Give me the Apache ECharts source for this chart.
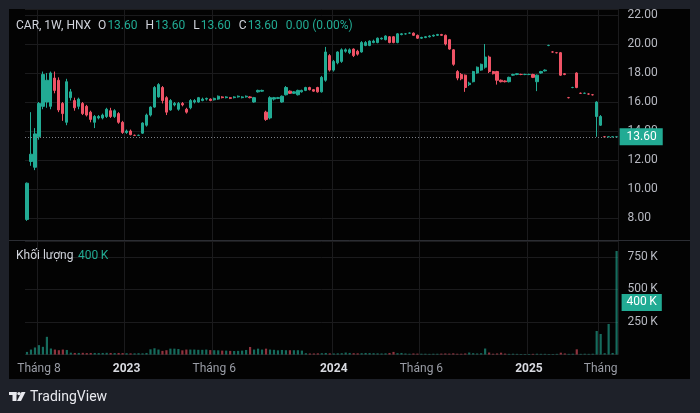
<!DOCTYPE html>
<html>
<head>
<meta charset="utf-8">
<script src="https://cdn.jsdelivr.net/npm/echarts@6/dist/echarts.min.js"></script>
<style>
html,body{margin:0;padding:0;background:#1e2129;}
#chart{width:700px;height:413px;}
</style>
</head>
<body>
<div id="chart"></div>
<script>
// Weekly candles: [open, close, low, high]
const candles = [
[7.9,10.4,7.8,10.45],[11.9,12.4,11.6,15.3],[11.5,13.8,11.3,14.2],[13.6,15.9,13.4,16.0],[15.7,17.9,15.5,18.1],
[16.0,17.5,15.6,18.0],[15.7,18.0,15.5,18.1],[17.65,16.8,16.6,18.1],[17.5,15.45,15.3,17.7],[15.9,15.2,14.7,16.0],
[14.6,17.4,14.4,17.6],[16.3,16.7,16.1,16.9],[16.1,15.6,15.4,16.3],[15.7,16.2,15.5,16.3],[15.9,15.2,15.1,16.0],
[15.7,15.1,15.0,15.8],[15.3,14.8,14.6,15.4],[14.6,15.0,14.2,15.1],[14.9,15.0,14.8,15.1],[14.9,15.1,14.8,15.2],
[15.0,15.5,14.9,15.6],[15.4,15.0,14.9,15.6],[15.0,15.4,14.9,15.5],[15.2,14.6,14.5,15.3],[14.6,13.9,13.8,14.7],
[13.9,14.0,13.8,14.1],[14.0,13.75,13.7,14.1],[13.7,13.7,13.65,13.75],[13.7,13.7,13.65,13.75],[13.85,14.55,13.8,14.6],
[14.4,15.1,14.3,15.2],[15.1,15.65,15.0,15.7],[15.65,17.0,15.6,17.1],[16.35,17.2,16.3,17.3],[17.0,16.1,15.9,17.1],
[16.3,15.3,15.1,16.4],[15.45,16.1,15.4,16.2],[15.8,15.9,15.7,16.0],[15.5,15.9,15.4,16.0],[15.9,15.8,15.7,16.0],
[15.5,15.3,15.2,15.6],[15.6,16.1,15.5,16.2],[16.0,16.1,15.9,16.2],[16.0,16.3,15.95,16.35],[16.1,16.2,16.05,16.3],
[16.2,16.25,16.1,16.3],[16.2,16.1,16.05,16.25],[16.15,16.25,16.1,16.3],[16.2,16.4,16.15,16.45],[16.35,16.3,16.25,16.4],
[16.3,16.35,16.25,16.4],[16.3,16.25,16.2,16.35],[16.3,16.35,16.25,16.4],[16.35,16.4,16.3,16.45],[16.3,16.35,16.25,16.4],
[16.35,16.4,16.3,16.45],[16.35,16.3,16.25,16.4],[16.0,16.3,15.95,16.35],[16.7,16.8,16.65,16.85],[16.75,16.8,16.7,16.85],
[15.3,14.8,14.7,15.4],[14.9,16.3,14.8,16.4],[16.2,16.3,16.1,16.35],[16.25,16.3,16.2,16.35],[16.0,16.4,15.95,16.45],
[16.5,17.0,16.45,17.1],[16.75,16.6,16.55,16.8],[16.6,16.7,16.55,16.75],[16.5,16.8,16.45,16.85],[16.7,16.8,16.65,16.85],
[16.8,17.0,16.75,17.05],[17.0,16.85,16.8,17.05],[16.85,16.75,16.7,16.9],[17.0,16.7,16.65,17.05],[16.7,17.7,16.65,17.8],
[17.5,19.45,17.4,19.8],[19.2,18.2,18.1,19.3],[18.2,18.8,18.1,18.9],[18.7,19.45,18.6,19.5],[18.8,19.6,18.7,19.7],
[19.5,19.6,19.4,19.7],[19.4,19.6,19.3,19.7],[19.65,19.2,19.1,19.7],[19.5,19.3,19.2,19.6],[19.45,20.1,19.4,20.2],
[19.9,20.1,19.85,20.2],[19.9,20.2,19.85,20.25],[20.1,20.2,20.05,20.3],[20.1,20.4,20.05,20.45],[20.35,20.4,20.3,20.45],
[20.3,20.55,20.25,20.6],[20.5,20.1,20.05,20.55],[20.5,20.1,20.05,20.55],[20.1,20.7,20.05,20.75],[20.65,20.7,20.6,20.75],
[20.7,20.7,20.65,20.75],[20.75,20.75,20.7,20.8],[20.75,20.6,20.55,20.8],[20.6,20.4,20.35,20.65],[20.4,20.45,20.35,20.5],
[20.45,20.5,20.4,20.55],[20.5,20.55,20.45,20.6],[20.55,20.6,20.5,20.65],[20.6,20.65,20.55,20.7],[20.65,20.6,20.55,20.7],
[20.6,20.0,19.9,20.65],[20.3,19.65,19.6,20.35],[19.6,18.6,18.5,19.65],[18.1,17.65,17.5,18.2],[17.9,17.6,17.5,18.0],
[17.85,17.0,16.7,17.9],[17.2,17.3,17.1,17.4],[17.4,18.1,17.35,18.15],[18.0,18.4,17.95,18.45],[18.2,18.6,18.15,18.65],
[18.4,19.1,18.3,20.0],[19.1,18.1,18.0,19.2],[18.1,17.95,17.9,18.15],[18.1,17.5,17.2,18.15],[17.5,17.4,17.35,17.55],
[17.45,17.4,17.35,17.5],[17.4,17.7,17.35,17.75],[17.85,17.9,17.8,17.95],[17.9,17.95,17.85,18.0],[17.9,17.9,17.85,17.95],
[17.9,17.9,17.85,17.95],[17.9,17.9,17.85,17.95],[17.9,17.7,17.65,17.95],[17.4,17.85,16.75,17.9],[18.0,18.1,17.95,18.15],
[18.15,18.2,18.1,18.25],[19.9,19.9,19.85,19.95],[19.45,19.45,19.4,19.5],[19.4,19.4,19.35,19.45],[19.4,17.85,17.8,19.45],
[17.95,17.9,17.85,18.0],[16.3,16.3,16.25,16.35],[17.0,17.0,16.95,17.05],[18.0,17.0,16.95,18.05],[16.6,16.6,16.55,16.65],
[16.6,16.6,16.55,16.65],[16.55,16.55,16.5,16.6],[16.5,16.5,16.45,16.55],[15.0,16.0,13.6,16.05],[14.4,15.0,14.35,15.1],
[13.6,13.6,13.6,13.65],[13.6,13.6,13.6,13.6],[13.6,13.6,13.6,13.6],[13.6,13.6,13.6,13.6]
];

// Weekly volume (shares)
const volumes = [
20000,38000,54000,72000,59000,136000,46000,38000,33000,38000,
35000,14000,12000,12000,13000,11000,12000,12000,11000,12000,
13000,12000,11000,12000,11000,10000,9000,9000,10000,9000,
12000,40000,48000,38000,28000,33000,45000,45000,42000,32000,
38000,38000,38000,36000,36000,38000,34000,33000,32000,30000,
30000,28000,27000,28000,30000,35000,58000,38000,45000,38000,
45000,38000,36000,32000,35000,33000,33000,33000,33000,30000,
10000,8000,8000,9000,10000,12000,9000,8000,9000,10000,
15000,12000,10000,9000,10000,12000,11000,10000,9000,8000,
9000,12000,20000,10000,12000,8000,6000,8000,7000,6000,
6000,5000,6000,6000,7000,8000,7000,9000,6000,6000,
8000,15000,10000,8000,10000,46000,15000,6000,8000,14000,
7000,5000,6000,5000,4000,4000,4000,5000,6000,5000,
5000,4000,4000,5000,14000,8000,5000,6000,40000,5000,
6000,5000,6000,181000,158000,10000,235000,12000,796000
];

// Time axis tick labels (category index -> text)
const tickIndex = [3, 25, 47, 77, 99, 126, 144];
const tickText = ['Tháng 8', '2023', 'Tháng 6', '2024', 'Tháng 6', '2025', 'Tháng'];
const yearTicks = ['2023', '2024', '2025'];

const symbolInfo = 'CAR, 1W, HNX';
const lastOHLC = { O: 13.60, H: 13.60, L: 13.60, C: 13.60 };
const lastChange = '0.00 (0.00%)';
const currentVolume = 400000;

const weeks = candles.map((_, i) => String(i));
const UP = '#22ab94', DOWN = '#ef5366';
const FONT = 'Roboto, "Noto Sans", sans-serif';

const tickSet = {};
tickIndex.forEach((ix, k) => { tickSet[ix] = tickText[k]; });
const isTick = (i) => tickSet[i] !== undefined;

const volData = volumes.map((v, i) => ({
  value: v,
  itemStyle: { color: candles[i][1] >= candles[i][0] ? 'rgba(34,171,148,0.62)' : 'rgba(239,83,102,0.6)' }
}));

const fmtK = (v) => Math.round(v / 1000) + '\u2009K';
const lastClose = candles[candles.length - 1][1];

const chart = echarts.init(document.getElementById('chart'), null, { renderer: 'canvas' });

const txt = (x, y, text, color, extra) => Object.assign({
  type: 'text', x: x, y: y, z: 10,
  style: Object.assign({ text: text, fill: color, font: '12px ' + FONT, textVerticalAlign: 'middle' }, extra || {})
});

const headerText = '{s|' + symbolInfo + '}' +
  ['O', 'H', 'L', 'C'].map(k => '{l|' + k + '}{v|' + lastOHLC[k].toFixed(2) + '}').join('') +
  '{c|' + lastChange + '}';

const option = {
  backgroundColor: '#1e2129',
  animation: false,
  textStyle: { fontFamily: FONT },
  graphic: [
    { type: 'rect', z: -10, shape: { x: 9, y: 9, width: 681, height: 370 }, style: { fill: '#030303' } },
    { type: 'line', z: 5, shape: { x1: 9, y1: 240.5, x2: 690, y2: 240.5 }, style: { stroke: '#2b2d33', lineWidth: 1 } },
    {
      type: 'text', x: 16, y: 26, z: 10,
      style: {
        text: headerText, textVerticalAlign: 'middle', font: '12px ' + FONT,
        rich: {
          s: { fill: '#d1d4dc', fontSize: 12, fontFamily: FONT, padding: [0, 7, 0, 0] },
          l: { fill: '#d1d4dc', fontSize: 12, fontFamily: FONT, padding: [0, 0, 0, 0] },
          v: { fill: UP, fontSize: 12, fontFamily: FONT, padding: [0, 8, 0, 1] },
          c: { fill: UP, fontSize: 12, fontFamily: FONT }
        }
      }
    },
    txt(16, 256, 'Khối lượng', '#d1d4dc'),
    txt(78, 256, fmtK(currentVolume), UP),
    // TradingView logo
    { type: 'rect', z: 10, shape: { x: 9, y: 392, width: 7.5, height: 3 }, style: { fill: '#e8e9ee' } },
    { type: 'rect', z: 10, shape: { x: 12.5, y: 392, width: 4, height: 9 }, style: { fill: '#e8e9ee' } },
    { type: 'circle', z: 10, shape: { cx: 19, cy: 393.6, r: 1.7 }, style: { fill: '#e8e9ee' } },
    { type: 'polygon', z: 10, shape: { points: [[21.5, 392], [25.5, 392], [21, 401], [17, 401]] }, style: { fill: '#e8e9ee' } },
    txt(30, 397, 'TradingView', '#e8e9ee', { font: '14px ' + FONT })
  ],
  grid: [
    { left: 25, right: 81.4, top: 9, height: 231 },
    { left: 25, right: 81.4, top: 241, bottom: 58.5 }
  ],
  xAxis: [
    {
      type: 'category', gridIndex: 0, data: weeks, boundaryGap: true,
      axisLine: { show: false }, axisTick: { show: false }, axisLabel: { show: false },
      splitLine: { show: true, interval: (i) => isTick(i), lineStyle: { color: '#1b1b1d' } }
    },
    {
      type: 'category', gridIndex: 1, data: weeks, boundaryGap: true,
      axisLine: { show: false }, axisTick: { show: false },
      splitLine: { show: true, interval: (i) => isTick(i), lineStyle: { color: '#1b1b1d' } },
      axisLabel: {
        show: true, interval: (i) => isTick(i), margin: 8,
        formatter: (v) => {
          const t = tickSet[Number(v)];
          if (t === undefined) return '';
          return yearTicks.indexOf(t) >= 0 ? '{y|' + t + '}' : '{m|' + t + '}';
        },
        rich: {
          y: { color: '#d8dae0', fontWeight: 'bold', fontSize: 12, fontFamily: FONT },
          m: { color: '#9a9da6', fontSize: 12, fontFamily: FONT }
        }
      }
    }
  ],
  yAxis: [
    {
      type: 'value', gridIndex: 0, position: 'right', scale: true,
      min: 6.483, max: 22.414, splitNumber: 8,
      axisLine: { show: false }, axisTick: { show: false },
      axisLabel: { color: '#b8bac2', fontSize: 12, margin: 9, showMinLabel: false, showMaxLabel: false,
        formatter: (v) => v.toFixed(2) },
      splitLine: { lineStyle: { color: '#1b1b1d' } }
    },
    {
      type: 'value', gridIndex: 1, position: 'right',
      min: 0, max: 873000, interval: 250000,
      axisLine: { show: false }, axisTick: { show: false },
      axisLabel: { color: '#b8bac2', fontSize: 12, margin: 9, showMinLabel: false, showMaxLabel: false,
        formatter: fmtK },
      splitLine: { lineStyle: { color: '#1b1b1d' } }
    }
  ],
  series: [
    {
      type: 'candlestick', xAxisIndex: 0, yAxisIndex: 0, data: candles, barWidth: '68%',
      itemStyle: { color: UP, color0: DOWN, borderColor: UP, borderColor0: DOWN, borderWidth: 1 },
      markLine: {
        silent: true, symbol: ['none', 'none'], animation: false,
        lineStyle: { color: '#7d8089', type: [1, 2], width: 1 },
        label: {
          position: 'end', distance: 1, formatter: () => lastClose.toFixed(2),
          backgroundColor: UP, color: '#ffffff', fontSize: 12, padding: [3, 6, 2, 7], fontFamily: FONT
        },
        data: [{ yAxis: lastClose }]
      }
    },
    {
      type: 'bar', xAxisIndex: 1, yAxisIndex: 1, data: volData, barWidth: '55%',
      markLine: {
        silent: true, symbol: ['none', 'none'], animation: false,
        lineStyle: { color: 'rgba(0,0,0,0)', width: 1, type: 'solid' },
        label: {
          show: true, position: 'end', distance: 3, formatter: () => fmtK(currentVolume),
          backgroundColor: UP, color: '#ffffff', fontSize: 12, padding: [3, 5, 2, 5], fontFamily: FONT
        },
        data: [{ yAxis: currentVolume }]
      }
    }
  ]
};

chart.setOption(option);
</script>
</body>
</html>
